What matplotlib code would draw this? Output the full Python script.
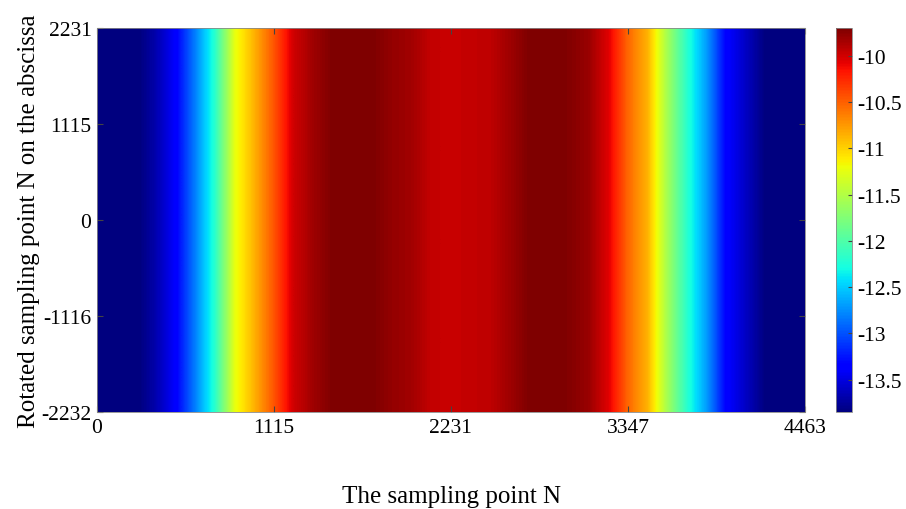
import matplotlib
matplotlib.use("Agg")
import matplotlib.pyplot as plt
import numpy as np

plt.rcParams['font.family'] = ['Liberation Serif', 'DejaVu Serif']
plt.rcParams['axes.unicode_minus'] = False

# profile along the sampling axis (values are constant along the rotated axis)
x_max = 4463
y_min, y_max = -2232, 2231
profile = [-13.90, -13.90, -13.88, -13.68, -13.37, -12.81, -12.19, -11.24,
           -10.86, -10.45, -9.99, -9.82, -9.70, -9.68, -9.70, -9.78, -9.83,
           -9.95, -9.97, -9.95, -9.93, -9.82, -9.70, -9.68, -9.72, -9.80,
           -10.05, -10.53, -10.86, -11.57, -12.19, -12.69, -13.35, -13.60,
           -13.85, -13.90, -13.90]
vmin, vmax = -13.85, -9.70

xticks = [0, 1115, 2231, 3347, 4463]
yticks = [-2232, -1116, 0, 1115, 2231]
cticks = [-13.5, -13, -12.5, -12, -11.5, -11, -10.5, -10]

fig = plt.figure(figsize=(9.06, 5.10), dpi=100)
ax = fig.add_axes([97/906, 1-413/510, 708/906, 384/510])
cax = fig.add_axes([836/906, 1-413/510, 16/906, 384/510])

Z = np.tile(np.array(profile), (2, 1))
step = x_max / (len(profile) - 1)
im = ax.imshow(Z, cmap='jet', vmin=vmin, vmax=vmax, aspect='auto',
               interpolation='bilinear', interpolation_stage='data',
               extent=[-step/2, x_max + step/2, y_min, y_max], origin='lower')
ax.set_xlim(0, x_max)
ax.set_ylim(y_min, y_max)
ax.set_xticks(xticks)
ax.set_yticks(yticks)
ax.tick_params(direction='in', length=4, labelsize=15.5, top=True, right=True,
               color='#444444', pad=4)
for s in ax.spines.values():
    s.set_color('#888888')
    s.set_linewidth(0.6)
ax.set_xlabel('The sampling point N', fontsize=18, labelpad=35)
ax.set_ylabel('Rotated sampling point N on the abscissa', fontsize=18, labelpad=1)

cb = fig.colorbar(im, cax=cax, ticks=cticks)
cb.ax.set_yticklabels(['%g' % t for t in cticks])
cb.ax.tick_params(direction='in', length=3, labelsize=15.5, color='#444444', pad=4)
cb.outline.set_edgecolor('#888888')
cb.outline.set_linewidth(0.6)

fig.savefig('out.png', dpi=100)
